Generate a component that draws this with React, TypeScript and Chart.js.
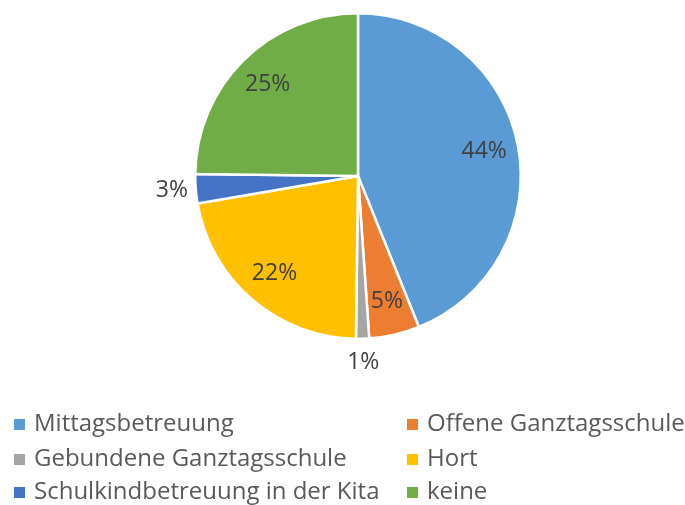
import React, { useEffect, useRef } from "react";
import { Chart, registerables } from "chart.js";

Chart.register(...registerables);

const categories = [
  "Mittagsbetreuung",
  "Offene Ganztagsschule",
  "Gebundene Ganztagsschule",
  "Hort",
  "Schulkindbetreuung in der Kita",
  "keine",
];
const values = [43.9, 5.0, 1.3, 22.1, 2.9, 24.8];
const valueLabels = ["44%", "5%", "1%", "22%", "3%", "25%"];
const colors = ["#5B9BD5", "#ED7D31", "#A5A5A5", "#FFC000", "#4472C4", "#70AD47"];

const FONT = "Open Sans, sans-serif";

const labelPlugin = {
  id: "sliceLabels",
  afterDatasetsDraw(chart: any) {
    const ctx = chart.ctx;
    const meta = chart.getDatasetMeta(0);
    ctx.save();
    ctx.font = `23px ${FONT}`;
    ctx.fillStyle = "#404040";
    ctx.textAlign = "center";
    ctx.textBaseline = "middle";
    meta.data.forEach((arc: any, i: number) => {
      const p = arc.getProps(["x", "y", "startAngle", "endAngle", "outerRadius"], true);
      const mid = (p.startAngle + p.endAngle) / 2;
      const small = values[i] < 4;
      const r = small ? p.outerRadius + 24 : p.outerRadius * 0.79;
      ctx.fillText(valueLabels[i], p.x + Math.cos(mid) * r, p.y + Math.sin(mid) * r);
    });
    ctx.restore();
  },
};

const legendPlugin = {
  id: "twoColLegend",
  afterDraw(chart: any) {
    const ctx = chart.ctx;
    ctx.save();
    ctx.font = `24px ${FONT}`;
    ctx.textBaseline = "middle";
    ctx.textAlign = "left";
    const colX = [14, 407];
    const rowY = [424, 459, 492];
    categories.forEach((c, i) => {
      const col = i % 2;
      const row = Math.floor(i / 2);
      const x = colX[col];
      const y = rowY[row];
      ctx.fillStyle = colors[i];
      ctx.fillRect(x, y - 5, 11, 11);
      ctx.fillStyle = "#595959";
      ctx.fillText(c, x + 20, y);
    });
    ctx.restore();
  },
};

export default function App() {
  const ref = useRef<HTMLCanvasElement>(null);
  useEffect(() => {
    document.body.style.margin = "0";
    const chart = new Chart(ref.current!, {
      type: "pie",
      data: {
        labels: categories,
        datasets: [
          {
            data: values,
            backgroundColor: colors,
            borderColor: "#ffffff",
            borderWidth: 2.5,
          },
        ],
      },
      options: {
        animation: false,
        responsive: false,
        layout: { padding: { left: 194, right: 163, top: 11, bottom: 164 } },
        plugins: {
          legend: { display: false },
          tooltip: { enabled: false },
        },
      },
      plugins: [labelPlugin, legendPlugin],
    });
    return () => chart.destroy();
  }, []);
  return (
    <div style={{ width: 685, height: 505, background: "#fff" }}>
      <canvas ref={ref} width={685} height={505} />
    </div>
  );
}
